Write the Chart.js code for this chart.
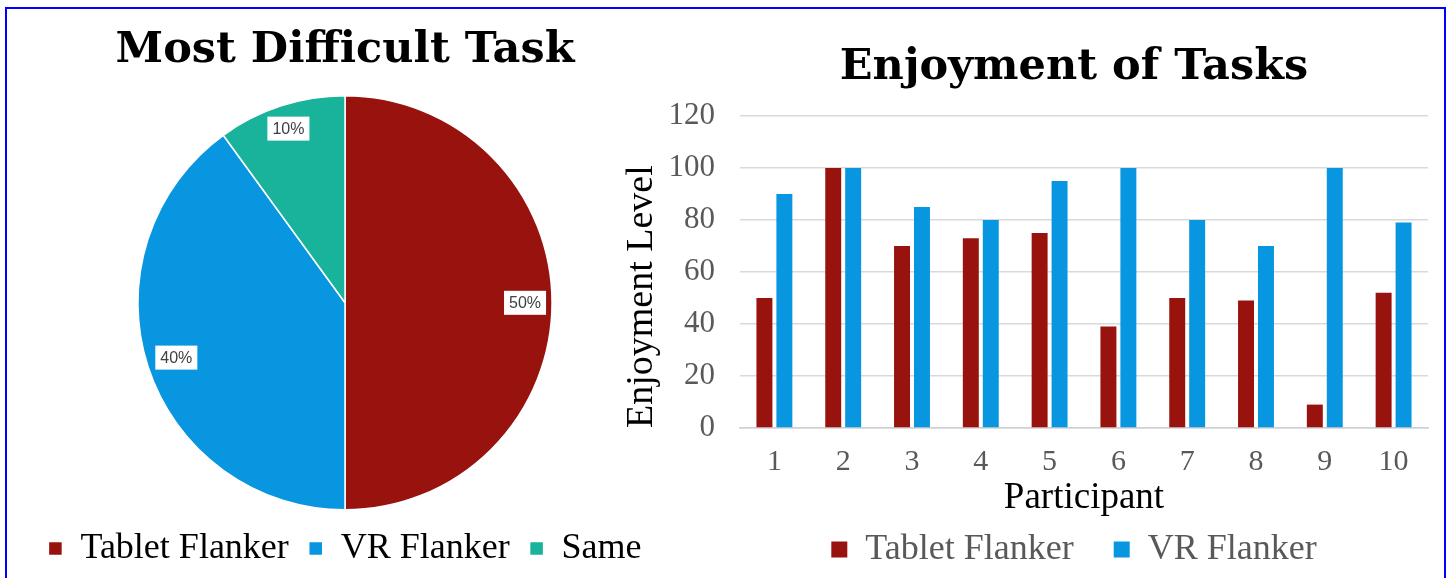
<!DOCTYPE html>
<html><head><meta charset="utf-8">
<script src="https://cdn.jsdelivr.net/npm/chart.js@4"></script>
<style>
html,body{margin:0;padding:0;background:#fff;width:1451px;height:578px;overflow:hidden}
#frame{position:absolute;left:5px;top:7px;width:1441px;height:600px;border:2px solid #0000ff;box-sizing:border-box}
#pieCanvas{position:absolute;left:7px;top:9px}
#barCanvas{position:absolute;left:600px;top:9px}
</style></head>
<body>
<div id="frame"></div>
<canvas id="pieCanvas" width="676" height="580"></canvas>
<canvas id="barCanvas" width="844" height="580"></canvas>
<script>
// ---- data ----
const pieLabels = ['Tablet Flanker', 'VR Flanker', 'Same'];
const pieValues = [50, 40, 10];

const participants = ['1','2','3','4','5','6','7','8','9','10'];
const tabletEnjoyment = [50, 100, 70, 73, 75, 39, 50, 49, 9, 52];
const vrEnjoyment = [90, 100, 85, 80, 95, 100, 80, 70, 100, 79];
const yTicks = [0, 20, 40, 60, 80, 100, 120];

const RED = '#98130e', BLUE = '#0896e0', TEAL = '#19b29b';
const SERIF = "'Liberation Serif', serif";
const TITLE_FONT = "'DejaVu Serif', serif";

// percentage labels in white boxes, placed just inside the slice edge
const pieLabelPlugin = {
  id: 'pieLabels',
  afterDatasetsDraw(chart) {
    const ctx = chart.ctx;
    const meta = chart.getDatasetMeta(0);
    const data = chart.data.datasets[0].data;
    const total = data.reduce((a, b) => a + b, 0);
    ctx.save();
    ctx.font = "16px 'Liberation Sans', Arial, sans-serif";
    ctx.textAlign = 'center';
    ctx.textBaseline = 'middle';
    meta.data.forEach((arc, i) => {
      const p = arc.getProps(['x', 'y', 'startAngle', 'endAngle', 'outerRadius'], true);
      const mid = (p.startAngle + p.endAngle) / 2;
      const txt = Math.round(data[i] / total * 100) + '%';
      const w = ctx.measureText(txt).width + 10;
      const h = 24;
      const c = Math.cos(mid), s = Math.sin(mid);
      const radialExtent = Math.abs(c) * w / 2 + Math.abs(s) * h / 2;
      const r = p.outerRadius - radialExtent - 6;
      const cx = p.x + c * r;
      const cy = p.y + s * r;
      ctx.fillStyle = '#ffffff';
      ctx.fillRect(cx - w / 2, cy - h / 2, w, h);
      ctx.fillStyle = '#404040';
      ctx.fillText(txt, cx, cy + 1);
    });
    ctx.restore();
  }
};

new Chart(document.getElementById('pieCanvas'), {
  type: 'pie',
  data: {
    labels: pieLabels,
    datasets: [{
      data: pieValues,
      backgroundColor: [RED, BLUE, TEAL],
      borderColor: '#ffffff',
      borderWidth: 1.5
    }]
  },
  options: {
    responsive: false,
    animation: false,
    layout: { padding: { top: 0, bottom: 12.5, left: 0, right: 0 } },
    plugins: {
      title: {
        display: true,
        text: 'Most Difficult Task',
        color: '#000',
        font: { family: TITLE_FONT, size: 43, weight: 'bold' },
        padding: { top: 16.2, bottom: 18.2 }
      },
      legend: {
        position: 'bottom',
        labels: {
          color: '#000',
          font: { family: SERIF, size: 36 },
          boxWidth: 14, boxHeight: 14,
          padding: 19.9
        }
      },
      tooltip: { enabled: false }
    }
  },
  plugins: [pieLabelPlugin]
});

new Chart(document.getElementById('barCanvas'), {
  type: 'bar',
  data: {
    labels: participants,
    datasets: [
      { label: 'Tablet Flanker', data: tabletEnjoyment, backgroundColor: RED,
        categoryPercentage: 0.58, barPercentage: 0.8 },
      { label: 'VR Flanker', data: vrEnjoyment, backgroundColor: BLUE,
        categoryPercentage: 0.58, barPercentage: 0.8 }
    ]
  },
  options: {
    responsive: false,
    animation: false,
    layout: { padding: { top: 0, bottom: 11.5, left: 120, right: 16 } },
    scales: {
      x: {
        afterFit(scale) { scale.height = 63.5; },
        grid: { display: false, drawTicks: false },
        border: { display: true, color: '#cfcfcf', width: 1.5 },
        ticks: { color: '#595959', font: { family: SERIF, size: 30 }, padding: 16 },
        title: { display: true, text: 'Participant', color: '#000',
          font: { family: SERIF, size: 37 }, padding: { top: 0, bottom: -28.7 } }
      },
      y: {
        min: 0, max: 120,
        afterBuildTicks(scale) { scale.ticks = yTicks.map(v => ({ value: v })); },
        afterFit(scale) { scale.width = 20; },
        grid: { color: '#d9d9d9', lineWidth: 1.5, drawTicks: false },
        border: { display: false },
        ticks: { color: '#595959', font: { family: SERIF, size: 31 },
          mirror: true, crossAlign: 'far', padding: -71.5 },
        title: { display: true, text: 'Enjoyment Level', color: '#000', align: 'start',
          font: { family: SERIF, size: 38 }, padding: { top: -100.8, bottom: 0 } }
      }
    },
    plugins: {
      title: {
        display: true,
        text: 'Enjoyment of Tasks',
        color: '#000',
        font: { family: TITLE_FONT, size: 43, weight: 'bold' },
        padding: { top: 33.2, bottom: 22.2 }
      },
      legend: {
        position: 'bottom',
        labels: {
          color: '#595959',
          font: { family: SERIF, size: 36 },
          boxWidth: 16, boxHeight: 16,
          padding: 40
        }
      },
      tooltip: { enabled: false }
    }
  }
});
</script>
</body></html>
